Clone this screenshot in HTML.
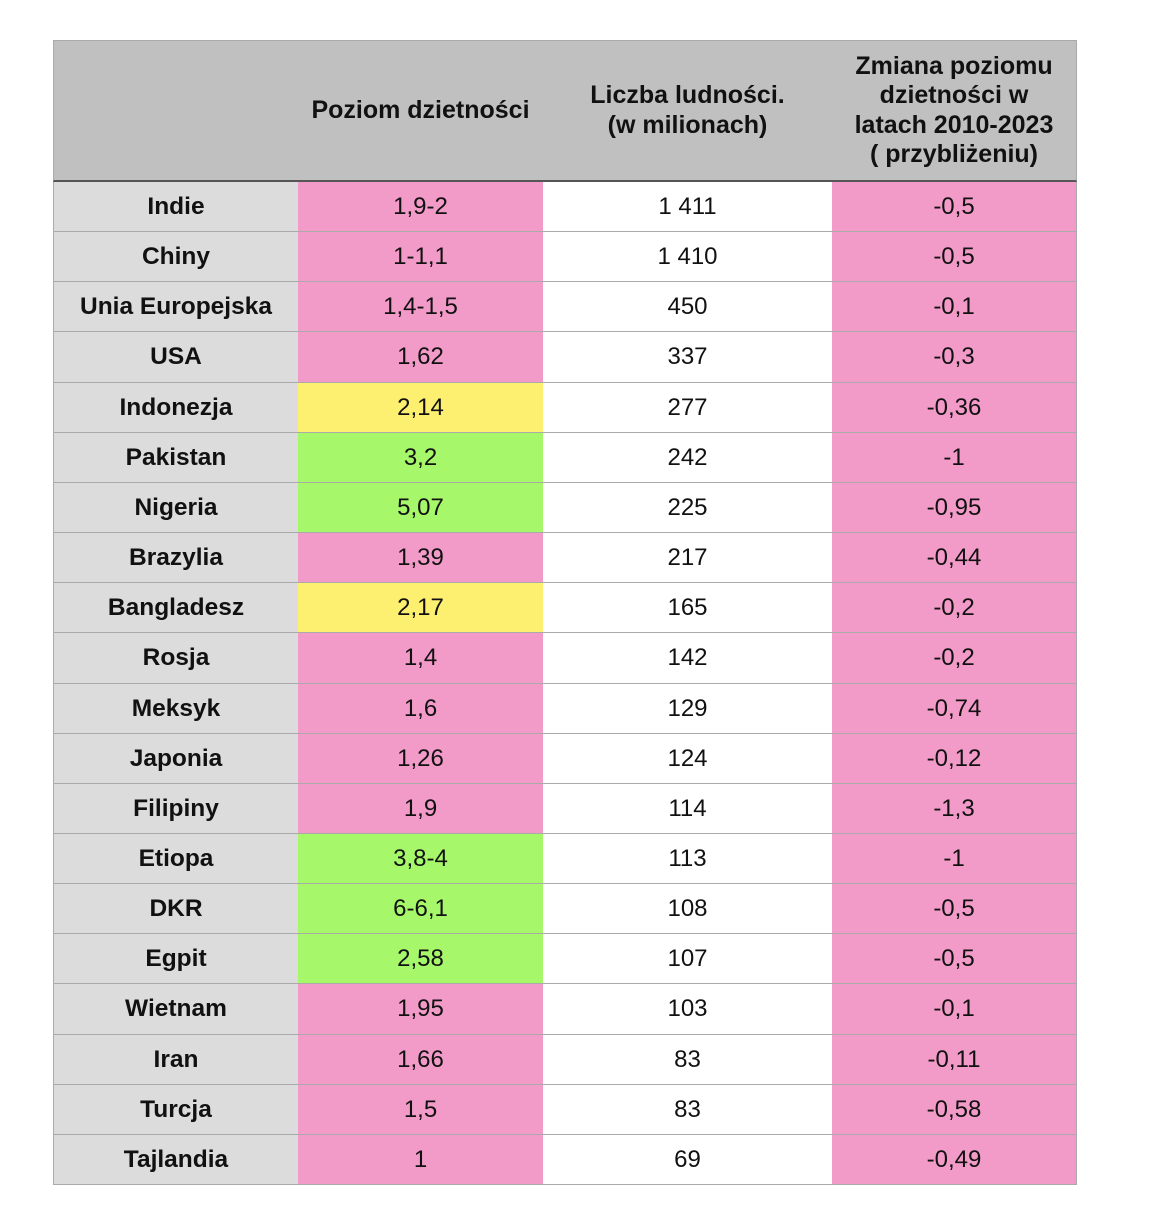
<!DOCTYPE html>
<html><head><meta charset="utf-8"><style>
body{margin:0;width:1154px;height:1220px;background:#fff;font-family:"Liberation Sans",Arial,sans-serif;position:relative;overflow:hidden}
.c{position:absolute;box-sizing:border-box;display:flex;align-items:center;justify-content:center;text-align:center;font-size:24px;color:#111;border-right:1px solid #aaa;border-bottom:1px solid #aaa}
.h{background:#c0c0c0;font-weight:bold;font-size:25px;line-height:29.5px;border-bottom:2px solid #555}
.n{background:#dcdcdc;font-weight:bold;font-size:24.5px}
.p{background:#f29ac8}.y{background:#fdf070}.g{background:#a6f76a}.w{background:#fff}
</style></head><body>
<div id="t"></div>
<script>
var rows=[["Indie","1,9-2","p","1 411","-0,5"],["Chiny","1-1,1","p","1 410","-0,5"],["Unia Europejska","1,4-1,5","p","450","-0,1"],["USA","1,62","p","337","-0,3"],["Indonezja","2,14","y","277","-0,36"],["Pakistan","3,2","g","242","-1"],["Nigeria","5,07","g","225","-0,95"],["Brazylia","1,39","p","217","-0,44"],["Bangladesz","2,17","y","165","-0,2"],["Rosja","1,4","p","142","-0,2"],["Meksyk","1,6","p","129","-0,74"],["Japonia","1,26","p","124","-0,12"],["Filipiny","1,9","p","114","-1,3"],["Etiopa","3,8-4","g","113","-1"],["DKR","6-6,1","g","108","-0,5"],["Egpit","2,58","g","107","-0,5"],["Wietnam","1,95","p","103","-0,1"],["Iran","1,66","p","83","-0,11"],["Turcja","1,5","p","83","-0,58"],["Tajlandia","1","p","69","-0,49"]];
var xs=[53,298,543,832,1077],h="";
function cell(x0,x1,y0,y1,cls,txt,extra){h+='<div class="c '+cls+'" style="left:'+x0+'px;top:'+y0+'px;width:'+(x1-x0)+'px;height:'+(y1-y0)+'px;'+(extra||'')+'">'+txt+'</div>';}
var hd=["","Poziom dzietności","Liczba ludności.<br>(w milionach)","Zmiana poziomu<br>dzietności w<br>latach 2010-2023<br>( przybliżeniu)"];
for(var j=0;j<4;j++)cell(xs[j],xs[j+1]+(j==3?0:1),40,182,"h",hd[j],"border-top:1px solid #aaa;"+(j==0?"border-left:1px solid #aaa;":""));
for(var i=0;i<20;i++){var y0=Math.round(182+i*50.15),y1=Math.round(182+(i+1)*50.15);var r=rows[i];
cell(xs[0],xs[1]+1,y0,y1,"n",r[0],"border-left:1px solid #aaa;");
cell(xs[1],xs[2]+1,y0,y1,r[2],r[1]);
cell(xs[2],xs[3]+1,y0,y1,"w",r[3]);
cell(xs[3],xs[4],y0,y1,"p",r[4]);}
document.getElementById("t").innerHTML=h;
</script>
</body></html>
